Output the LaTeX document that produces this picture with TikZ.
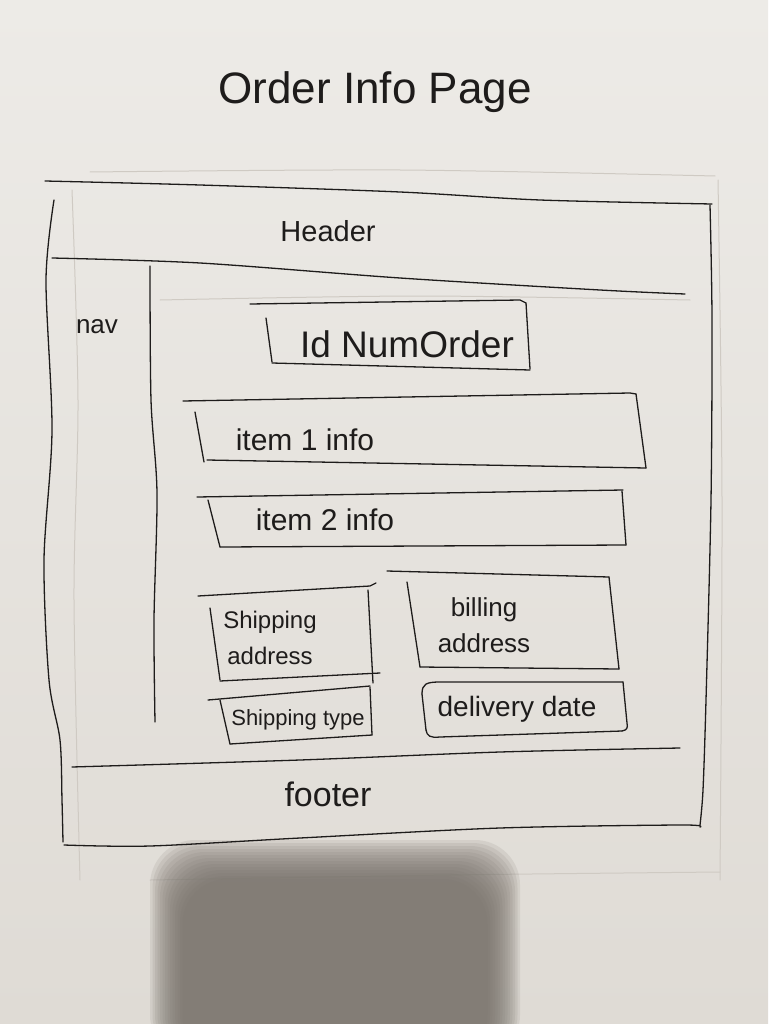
\documentclass[tikz,border=0pt]{standalone}
\usepackage{fontspec}
\setmainfont{Liberation Sans}
\definecolor{paperTop}{HTML}{EDEBE7}
\definecolor{paperBot}{HTML}{DFDBD5}
\definecolor{inkc}{HTML}{1E1C1B}
\definecolor{ghostc}{HTML}{CFCAC3}
\definecolor{shadowc}{HTML}{77716A}
\begin{document}
\begin{tikzpicture}[x=1pt,y=-1pt,
  ink/.style={draw=inkc, line width=1.3pt, line cap=round, line join=round},
  ghost/.style={draw=ghostc, line width=1pt, line cap=round},
  lbl/.style={text=inkc, inner sep=0pt, align=center}]
\useasboundingbox (0,0) rectangle (768,1024);

% paper
\fill[top color=paperTop, bottom color=paperBot] (0,0) rectangle (768,1024);

% faint lines showing through from the back of the sheet
\draw[ghost] plot[smooth] coordinates {(72,190) (78,400) (74,600) (80,880)};
\draw[ghost] plot[smooth] coordinates {(718,180) (722,500) (720,880)};
\draw[ghost] plot[smooth] coordinates {(90,172) (400,170) (715,176)};
\draw[ghost] plot[smooth] coordinates {(150,880) (450,875) (720,872)};
\draw[ghost] plot[smooth] coordinates {(160,300) (420,296) (690,300)};

% hand shadow at the bottom, softened by stacked layers
\foreach \i in {0,...,13}
  \fill[shadowc, opacity=0.13, rounded corners=45pt]
    ({150+\i*2.5},{840+\i*3}) rectangle ({520-\i*2.5},1060);

% outer frame
\draw[ink] plot[smooth] coordinates {(45,181) (200,185) (400,192) (540,200) (712,204)};
\draw[ink] plot[smooth] coordinates {(54,200) (46,280) (52,430) (44,560) (49,680) (60,740) (62,800) (63,842)};
\draw[ink] plot[smooth] coordinates {(710,205) (712,320) (711,500) (706,700) (703,790) (700,825)};
\draw[ink] plot[smooth] coordinates {(64,845) (150,846) (300,838) (500,828) (680,825) (700,827)};

% header and footer dividers, nav column
\draw[ink] plot[smooth] coordinates {(52,258) (200,263) (400,278) (600,290) (685,294)};
\draw[ink] plot[smooth] coordinates {(72,767) (300,760) (500,752) (680,748)};
\draw[ink] plot[smooth] coordinates {(150,266) (151,400) (157,493) (154,620) (155,722)};

% order id box
\draw[ink] (250,304) -- (520,300) -- (526,303);
\draw[ink] (526,303) -- (530,369);
\draw[ink] (530,370) -- (272,363);
\draw[ink] (266,318) -- (272,362);

% item 1 box
\draw[ink] (183,401) -- (630,393) -- (636,394);
\draw[ink] (636,394) -- (646,468);
\draw[ink] (646,468) -- (207,460);
\draw[ink] (195,412) -- (204,462);

% item 2 box
\draw[ink] (197,497) -- (623,490);
\draw[ink] (622,491) -- (626,545);
\draw[ink] (626,545) -- (220,547);
\draw[ink] (208,500) -- (220,547);

% shipping address box
\draw[ink] (198,596) -- (370,586) -- (376,583);
\draw[ink] (368,590) -- (373,683);
\draw[ink] (220,681) -- (380,673);
\draw[ink] (210,608) -- (220,680);

% billing address box
\draw[ink] (387,571) -- (609,577);
\draw[ink] (609,577) -- (619,669);
\draw[ink] (619,669) -- (420,667);
\draw[ink] (407,582) -- (420,667);

% shipping type box
\draw[ink] (208,700) -- (370,686);
\draw[ink] (370,687) -- (372,735);
\draw[ink] (372,735) -- (230,744);
\draw[ink] (220,700) -- (230,744);

% delivery date box
\draw[ink] (422,694) .. controls (422,684) and (426,682) .. (440,682) -- (623,682);
\draw[ink] (623,682) -- (627,723) .. controls (628,728) and (627,730) .. (622,731);
\draw[ink] (622,731) -- (440,737) .. controls (430,738) and (427,736) .. (426,730);
\draw[ink] (422,694) -- (426,730);

% labels
\node[lbl, anchor=base, font=\fontsize{44}{48}\selectfont] (title) at (375,104) {Order Info Page};
\node[lbl, anchor=base, font=\fontsize{29}{32}\selectfont] (header) at (328,241) {Header};
\node[lbl, anchor=base, font=\fontsize{26}{28}\selectfont] (nav) at (97,333) {nav};
\node[lbl, anchor=base, font=\fontsize{37}{40}\selectfont] (orderid) at (407,357) {Id NumOrder};
\node[lbl, anchor=base, font=\fontsize{30}{32}\selectfont] (item1) at (305,450) {item 1 info};
\node[lbl, anchor=base, font=\fontsize{30}{32}\selectfont] (item2) at (325,530) {item 2 info};
\node[lbl, font=\fontsize{24}{36}\selectfont] (shipaddr) at (270,638) {Shipping\\address};
\node[lbl, font=\fontsize{26}{36}\selectfont] (billaddr) at (484,625) {billing\\address};
\node[lbl, anchor=base, font=\fontsize{22}{24}\selectfont] (shiptype) at (298,725) {Shipping type};
\node[lbl, anchor=base, font=\fontsize{28}{30}\selectfont] (delivery) at (517,716) {delivery date};
\node[lbl, anchor=base, font=\fontsize{34}{36}\selectfont] (footer) at (328,806) {footer};
\end{tikzpicture}
\end{document}
